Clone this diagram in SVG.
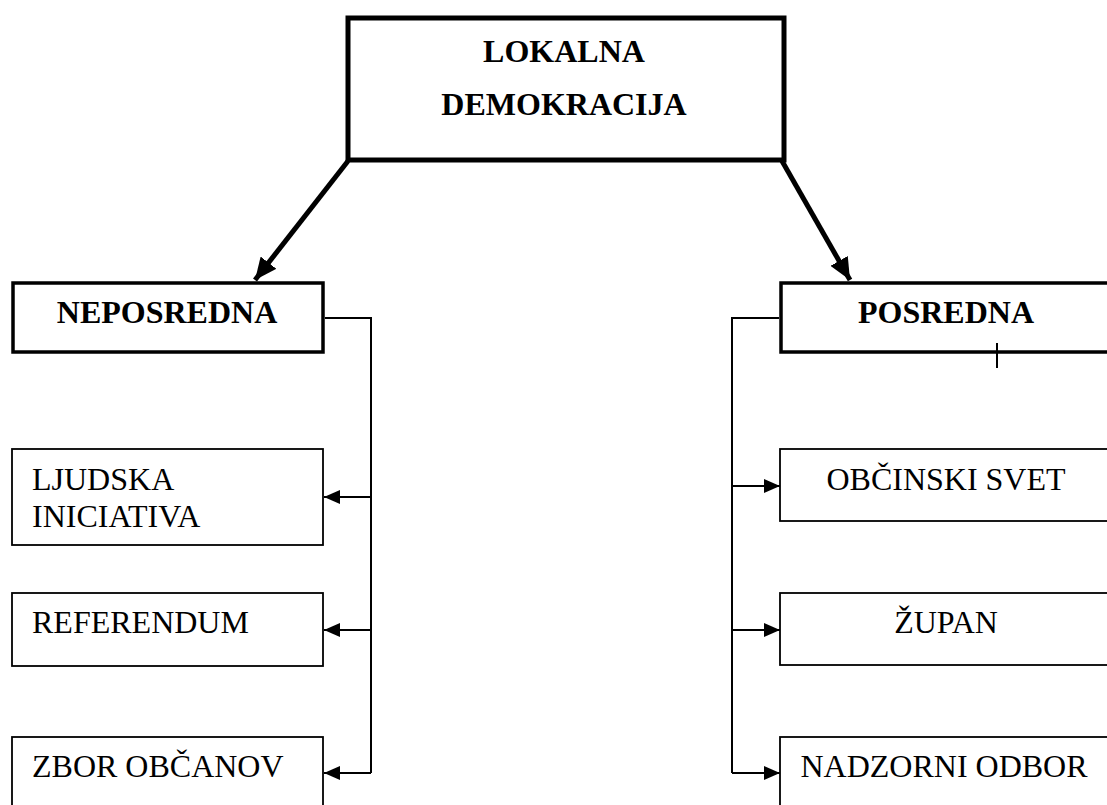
<svg xmlns="http://www.w3.org/2000/svg" width="1107" height="805" viewBox="0 0 1107 805">
<style>
.thick{fill:#fff;stroke:#000;stroke-width:5}
.mid{fill:#fff;stroke:#000;stroke-width:3.5}
.thin{fill:#fff;stroke:#000;stroke-width:1.8}
.bold{font-family:"Liberation Serif","Times New Roman",serif;font-weight:bold;font-size:32px;fill:#000}
.reg{font-family:"Liberation Serif","Times New Roman",serif;font-size:32px;fill:#000}
.conn{fill:none;stroke:#000;stroke-width:2}
.big{fill:none;stroke:#000;stroke-width:5}
</style>
<defs>
<marker id="ah" markerUnits="userSpaceOnUse" markerWidth="16" markerHeight="14" refX="16" refY="7" orient="auto">
<path d="M0,0 L16,7 L0,14 Z" fill="#000"/>
</marker>
<marker id="ahb" markerUnits="userSpaceOnUse" markerWidth="22" markerHeight="20" refX="22" refY="10" orient="auto">
<path d="M0,0 L22,10 L0,20 Z" fill="#000"/>
</marker>
</defs>
<g id="lokalna">
<rect class="thick" x="348" y="18" width="436" height="142"/>
<text class="bold" x="564" y="62" text-anchor="middle">LOKALNA</text>
<text class="bold" x="564" y="115" text-anchor="middle">DEMOKRACIJA</text>
</g>
<g id="neposredna">
<rect class="mid" x="13" y="283" width="310" height="69"/>
<text class="bold" x="167" y="323" text-anchor="middle">NEPOSREDNA</text>
</g>
<g id="posredna">
<rect class="mid" x="781" y="283" width="340" height="69"/>
<text class="bold" x="946" y="323" text-anchor="middle">POSREDNA</text>
</g>
<g id="ljudska">
<rect class="thin" x="12" y="449" width="311" height="96"/>
<text class="reg" x="32" y="490">LJUDSKA</text>
<text class="reg" x="32" y="527">INICIATIVA</text>
</g>
<g id="referendum">
<rect class="thin" x="12" y="593" width="311" height="73"/>
<text class="reg" x="32" y="633">REFERENDUM</text>
</g>
<g id="zbor">
<rect class="thin" x="12" y="737" width="311" height="90"/>
<text class="reg" x="32" y="777">ZBOR OBČANOV</text>
</g>
<g id="obcinski">
<rect class="thin" x="780" y="449" width="340" height="72"/>
<text class="reg" x="946" y="490" text-anchor="middle">OBČINSKI SVET</text>
</g>
<g id="zupan">
<rect class="thin" x="780" y="593" width="340" height="72"/>
<text class="reg" x="946" y="633" text-anchor="middle">ŽUPAN</text>
</g>
<g id="nadzorni">
<rect class="thin" x="780" y="737" width="340" height="90"/>
<text class="reg" x="944" y="777" text-anchor="middle">NADZORNI ODBOR</text>
</g>
<g id="connectors">
<line class="big" x1="348" y1="161" x2="255" y2="280" marker-end="url(#ahb)"/>
<line class="big" x1="782" y1="161" x2="850" y2="280" marker-end="url(#ahb)"/>
<polyline class="conn" points="325,318 371,318 371,773"/>
<line class="conn" x1="371" y1="497" x2="324" y2="497" marker-end="url(#ah)"/>
<line class="conn" x1="371" y1="630" x2="324" y2="630" marker-end="url(#ah)"/>
<line class="conn" x1="371" y1="773" x2="324" y2="773" marker-end="url(#ah)"/>
<polyline class="conn" points="779,318 732,318 732,773"/>
<line class="conn" x1="732" y1="486" x2="780" y2="486" marker-end="url(#ah)"/>
<line class="conn" x1="732" y1="630" x2="780" y2="630" marker-end="url(#ah)"/>
<line class="conn" x1="732" y1="773" x2="780" y2="773" marker-end="url(#ah)"/>
<line class="conn" x1="997" y1="343" x2="997" y2="368"/>
</g>
</svg>
